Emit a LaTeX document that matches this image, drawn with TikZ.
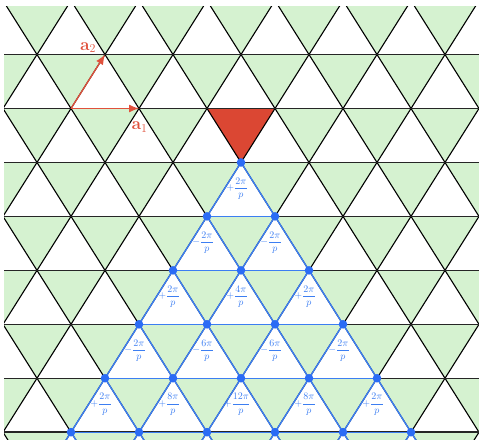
\documentclass[tikz,border=0pt]{standalone}
\usetikzlibrary{arrows.meta}
\definecolor{latgreen}{HTML}{D5F2D0}
\definecolor{redtri}{HTML}{DB4733}
\definecolor{arrowred}{HTML}{E0513C}
\definecolor{bluel}{HTML}{3C7EF2}
\definecolor{blued}{HTML}{2B6CF5}
\newcommand\mysgnp{+}
\newcommand\mysgnm{-}
\tikzset{
  latline/.style={line width=1.1pt, black},
  hline/.style={line width=1.5pt, black!85},
  blueedge/.style={line width=1.4pt, bluel},
  bluedot/.style={fill=blued},
  lab/.style={text=bluel, font=\fontsize{10}{12}\selectfont, inner sep=0pt, anchor=base},
  vec/.style={line width=1.3pt, arrowred, -{Latex[length=10pt,width=8pt]}},
  veclab/.style={text=arrowred, font=\fontsize{17}{20}\selectfont, inner sep=0pt}
}
\begin{document}
\begin{tikzpicture}[x=1pt,y=-1pt]
\useasboundingbox (0,0) rectangle (479,439);
\begin{scope}
\clip (4,6) rectangle (479,439);
% green down triangles
\foreach \jj in {-1,...,8} {
  \foreach \kk in {-1,...,7} {
    \pgfmathsetmacro\xa{3+68*\kk+34*mod(\jj+2,2)}
    \pgfmathsetmacro\ya{0.6+53.95*\jj}
    \fill[latgreen] (\xa,\ya) -- ++(68,0) -- ++(-34,53.95) -- cycle;
  }
}
% red triangle
\fill[redtri] (207,108.5) -- (275,108.5) -- (241,162.45) -- cycle;
% slanted lattice lines
\foreach \jj in {-1,...,8} {
  \foreach \kk in {-1,...,7} {
    \pgfmathsetmacro\xa{3+68*\kk+34*mod(\jj+2,2)}
    \pgfmathsetmacro\ya{0.6+53.95*\jj}
    \draw[latline] (\xa,\ya) -- ++(34,53.95) -- ++(34,-53.95);
  }
}
% horizontal lattice lines
\foreach \jj in {0,...,8} {
  \pgfmathsetmacro\ya{0.6+53.95*\jj}
  \draw[hline] (0,\ya) -- (479,\ya);
}
% blue sub-lattice
\foreach \rr in {0,...,6} {
  \foreach \cc in {0,...,\rr} {
    \coordinate (b\rr-\cc) at ({241-34*\rr+68*\cc},{162.45+53.95*\rr});
  }
}
\foreach \rr in {0,...,5} {
  \pgfmathtruncatemacro\rn{\rr+1}
  \foreach \cc in {0,...,\rr} {
    \pgfmathtruncatemacro\cn{\cc+1}
    \draw[blueedge] (b\rr-\cc) -- (b\rn-\cc);
    \draw[blueedge] (b\rr-\cc) -- (b\rn-\cn);
  }
}
\foreach \rr in {1,...,6} {
  \pgfmathtruncatemacro\rmin{\rr-1}
  \foreach \cc in {0,...,\rmin} {
    \pgfmathtruncatemacro\cn{\cc+1}
    \draw[blueedge] (b\rr-\cc) -- (b\rr-\cn);
  }
}
\foreach \rr in {0,...,6} {
  \foreach \cc in {0,...,\rr} {
    \fill[bluedot] (b\rr-\cc) circle (4.3);
  }
}
% phase labels
\foreach \rr/\cc/\sg/\nm in {0/0/p/2, 1/0/m/2, 1/1/m/2, 2/0/p/2, 2/1/p/4, 2/2/p/2,
  3/0/m/2, 3/1/m/6, 3/2/m/6, 3/3/m/2, 4/0/p/2, 4/1/p/8, 4/2/p/12, 4/3/p/8, 4/4/p/2} {
  \node[lab] (L\rr-\cc) at ([xshift=-3.9pt,yshift=-28.5pt]b\rr-\cc)
    {$\displaystyle\csname mysgn\sg\endcsname\frac{\nm\pi}{p}$};
}
\end{scope}
% lattice vectors
\coordinate (o) at (71,108.5);
\coordinate (e1) at (139,108.5);
\coordinate (e2) at (105,54.55);
\draw[vec] (o) -- (e1);
\draw[vec] (o) -- (e2);
\node[veclab] (la1) at (139.5,127) {$\mathbf{a}_1$};
\node[veclab] (la2) at (88,47.5) {$\mathbf{a}_2$};
\end{tikzpicture}
\end{document}
